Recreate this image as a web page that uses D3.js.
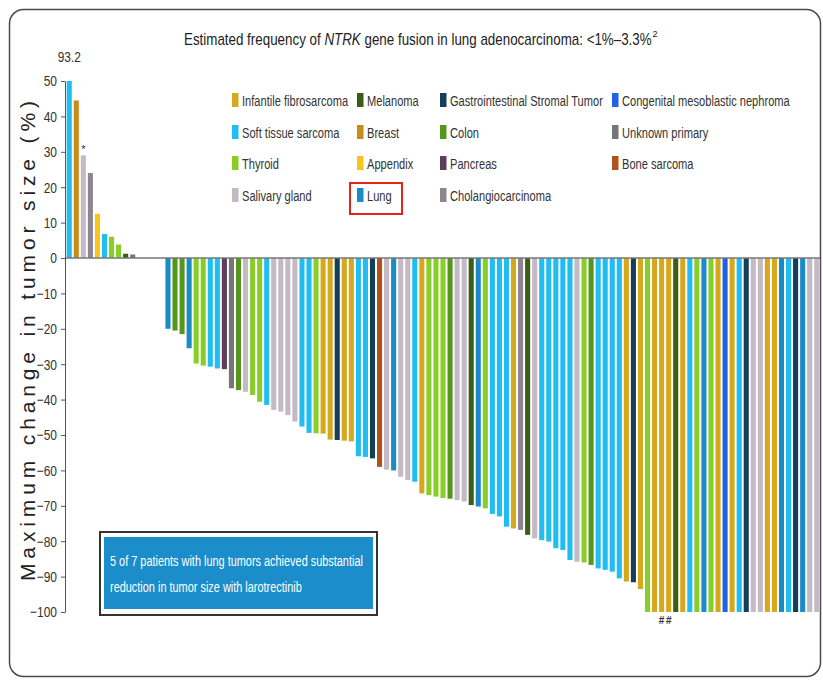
<!DOCTYPE html>
<html>
<head>
<meta charset="utf-8">
<script src="https://cdn.jsdelivr.net/npm/d3@7"></script>
<style>
  body { margin: 0; background: #fff; }
  svg text { font-family: "Liberation Sans", Arial, sans-serif; }
</style>
</head>
<body>
<div id="chart"></div>
<script>
// tumour types, in legend order (column by column)
var tumorCodes = ["IFS", "STS", "THY", "SAL", "MEL", "BRE", "APP", "LUN",
  "GIST", "COL", "PAN", "CHO", "CMN", "UNK", "BON"];
var tumorNames = ["Infantile fibrosarcoma", "Soft tissue sarcoma", "Thyroid", "Salivary gland",
  "Melanoma", "Breast", "Appendix", "Lung",
  "Gastrointestinal Stromal Tumor", "Colon", "Pancreas", "Cholangiocarcinoma",
  "Congenital mesoblastic nephroma", "Unknown primary", "Bone sarcoma"];
var tumorColors = ["#d5a81e", "#1fbdf2", "#88cd2a", "#c4bac6",
  "#3b5e14", "#c98a1e", "#f7c51e", "#1b8bc7",
  "#143f59", "#55961d", "#5d3d5c", "#8e8590",
  "#2062e6", "#767676", "#b1521c"];

// one entry per patient, left to right
var patientTypes = [
  "STS", "BRE", "SAL", "CHO", "APP", "STS", "THY", "THY", "MEL", "UNK",
  "STS", "STS", "STS", "STS",
  "LUN", "COL", "COL", "LUN", "THY", "THY", "STS", "STS", "PAN", "UNK",
  "COL", "SAL", "THY", "THY", "STS", "SAL", "SAL", "SAL", "SAL", "STS",
  "STS", "THY", "IFS", "IFS", "GIST", "IFS", "IFS", "STS", "STS", "GIST",
  "BON", "SAL", "LUN", "SAL", "SAL", "STS", "IFS", "THY", "THY", "THY",
  "COL", "SAL", "SAL", "MEL", "LUN", "THY", "STS", "STS", "STS", "IFS",
  "CHO", "MEL", "SAL", "STS", "STS", "STS", "STS", "STS", "SAL", "THY",
  "COL", "STS", "STS", "STS", "STS", "IFS", "GIST", "IFS", "THY", "IFS",
  "IFS", "IFS", "MEL", "IFS", "STS", "THY", "LUN", "THY", "IFS", "CMN",
  "IFS", "STS", "GIST", "SAL", "SAL", "IFS", "IFS", "LUN", "STS", "GIST",
  "LUN", "SAL", "SAL"];
var patientChanges = [
  93.2, 44.5, 29, 24, 12.5, 6.8, 6, 3.8, 1.2, 1.0,
  0, 0, 0, 0,
  -20, -20.5, -21.5, -25.5, -29.8, -30.4, -30.7, -31.2, -31.4, -36.8,
  -37.3, -37.8, -38.7, -40.6, -41.5, -42.9, -43.4, -44.4, -46.2, -47.6,
  -49.4, -49.5, -49.6, -51.3, -51.4, -51.6, -51.8, -56, -56.2, -56.6,
  -59, -59.8, -60, -61.8, -62.7, -63.2, -66.5, -67, -67.4, -67.8,
  -68, -68.4, -68.8, -69.8, -70.2, -70.7, -72.3, -73, -75.9, -76.4,
  -76.8, -78.2, -79.2, -79.7, -80.1, -82, -82.5, -85.3, -85.8, -86,
  -86.7, -87.7, -88.1, -88.6, -90.5, -91.4, -91.6, -93.5, -100, -100,
  -100, -100, -100, -100, -100, -100, -100, -100, -100, -100,
  -100, -100, -100, -100, -100, -100, -100, -100, -100, -100,
  -100, -100, -100];
var asteriskPatients = [2];
var hashPatients = [84, 85];
var yTicks = [50, 40, 30, 20, 10, 0, -10, -20, -30, -40, -50, -60, -70, -80, -90, -100];

var width = 823, height = 681;

var svg = d3.select("#chart")
  .append("svg")
  .attr("width", width)
  .attr("height", height);

// squash text horizontally, the original uses a narrow face
function narrow(sel, k) {
  sel.each(function () {
    var t = d3.select(this);
    var x0 = +t.attr("x") || 0;
    var prev = t.attr("transform") || "";
    t.attr("x", x0 / k).attr("transform", prev + " scale(" + k + ",1)");
  });
}
function fitWidth(sel, w) {
  sel.each(function () {
    narrow(d3.select(this), w / this.getComputedTextLength());
  });
}

// outer frame
svg.append("rect")
  .attr("x", 9.5).attr("y", 9.5)
  .attr("width", 811).attr("height", 667)
  .attr("rx", 14)
  .style("fill", "none")
  .style("stroke", "#4a4a4a")
  .style("stroke-width", 1.5);

var x = d3.scaleBand()
  .domain(d3.range(patientChanges.length))
  .range([66, 820])
  .paddingInner(0.28)
  .paddingOuter(0.1);

var y = d3.scaleLinear()
  .domain([-100, 50])
  .range([612, 81]);

var color = d3.scaleOrdinal().domain(tumorCodes).range(tumorColors);

// bars
svg.append("g")
  .selectAll("rect")
  .data(patientChanges)
  .join("rect")
  .attr("x", function (d, i) { return x(i); })
  .attr("y", function (d) { return d > 0 ? y(Math.min(d, 50)) : y(0); })
  .attr("width", x.bandwidth())
  .attr("height", function (d) { return Math.abs(y(Math.min(d, 50)) - y(0)); })
  .style("fill", function (d, i) { return color(patientTypes[i]); });

// zero line
svg.append("line")
  .attr("x1", 65).attr("x2", 820)
  .attr("y1", y(0)).attr("y2", y(0))
  .style("stroke", "#777")
  .style("stroke-width", 1.5);

// y axis
var yAxis = svg.append("g")
  .attr("transform", "translate(65,0)")
  .call(d3.axisLeft(y).tickValues(yTicks).tickSize(4).tickSizeOuter(0).tickPadding(4));
yAxis.select(".domain").style("stroke", "#555");
yAxis.selectAll(".tick line").style("stroke", "#555");
yAxis.selectAll(".tick text")
  .style("font-size", "15px")
  .style("fill", "#333")
  .call(narrow, 0.8);

svg.append("text")
  .attr("transform", "translate(35,341) rotate(-90)")
  .attr("text-anchor", "middle")
  .attr("textLength", 480)
  .style("font-size", "21px")
  .style("fill", "#222")
  .text("Maximum change in tumor size (%)");

// truncated bar value and footnote marks
svg.append("text")
  .attr("x", x(0) + x.bandwidth() / 2)
  .attr("y", 62)
  .attr("text-anchor", "middle")
  .style("font-size", "14px")
  .style("fill", "#333")
  .text(patientChanges[0])
  .call(narrow, 0.85);

svg.selectAll(".ast")
  .data(asteriskPatients)
  .join("text")
  .attr("class", "ast")
  .attr("x", function (i) { return x(i) + x.bandwidth() / 2; })
  .attr("y", function (i) { return y(patientChanges[i]) - 2; })
  .attr("text-anchor", "middle")
  .style("font-size", "11px")
  .style("fill", "#333")
  .text("*");

svg.selectAll(".hash")
  .data(hashPatients)
  .join("text")
  .attr("class", "hash")
  .attr("x", function (i) { return x(i) + x.bandwidth() / 2; })
  .attr("y", y(-100) + 12)
  .attr("text-anchor", "middle")
  .style("font-size", "10px")
  .style("font-weight", "bold")
  .style("fill", "#333")
  .text("#");

// title
var title = svg.append("text")
  .attr("x", 184)
  .attr("y", 45)
  .style("font-size", "16px")
  .style("fill", "#222");
title.append("tspan").text("Estimated frequency of ");
title.append("tspan").style("font-style", "italic").text("NTRK");
title.append("tspan").text(" gene fusion in lung adenocarcinoma: <1%\u20133.3%");
title.call(fitWidth, 468);
svg.append("text")
  .attr("x", 652.5)
  .attr("y", 37)
  .style("font-size", "9px")
  .style("fill", "#222")
  .text("2");

// legend
var legendX = [232, 357, 440, 612];
var legendY = [100, 132, 163, 195];
var legend = svg.append("g")
  .selectAll("g")
  .data(tumorNames)
  .join("g")
  .attr("transform", function (d, i) {
    return "translate(" + legendX[Math.floor(i / 4)] + "," + legendY[i % 4] + ")";
  });
legend.append("rect")
  .attr("x", 0).attr("y", -7)
  .attr("width", 6.5).attr("height", 14)
  .style("fill", function (d, i) { return tumorColors[i]; });
legend.append("text")
  .attr("x", 10)
  .attr("y", 5.5)
  .style("font-size", "15px")
  .style("fill", "#333")
  .text(function (d) { return d; })
  .call(narrow, 0.74);

// red box around Lung
var lungIdx = tumorCodes.indexOf("LUN");
svg.append("rect")
  .attr("x", legendX[Math.floor(lungIdx / 4)] - 7)
  .attr("y", legendY[lungIdx % 4] - 12)
  .attr("width", 52)
  .attr("height", 31)
  .style("fill", "none")
  .style("stroke", "#e3241b")
  .style("stroke-width", 2);

// callout box
var note = svg.append("g");
note.append("rect")
  .attr("x", 100).attr("y", 532)
  .attr("width", 277).attr("height", 83)
  .style("fill", "#fff")
  .style("stroke", "#333")
  .style("stroke-width", 2);
note.append("rect")
  .attr("x", 104).attr("y", 537)
  .attr("width", 269).attr("height", 72)
  .style("fill", "#1b8dcb");
note.append("text")
  .attr("x", 110).attr("y", 566)
  .style("font-size", "14.5px")
  .style("fill", "#fff")
  .text("5 of 7 patients with lung tumors achieved substantial")
  .call(fitWidth, 253);
note.append("text")
  .attr("x", 110).attr("y", 592)
  .style("font-size", "14.5px")
  .style("fill", "#fff")
  .text("reduction in tumor size with larotrectinib")
  .call(fitWidth, 192);
</script>
</body>
</html>
